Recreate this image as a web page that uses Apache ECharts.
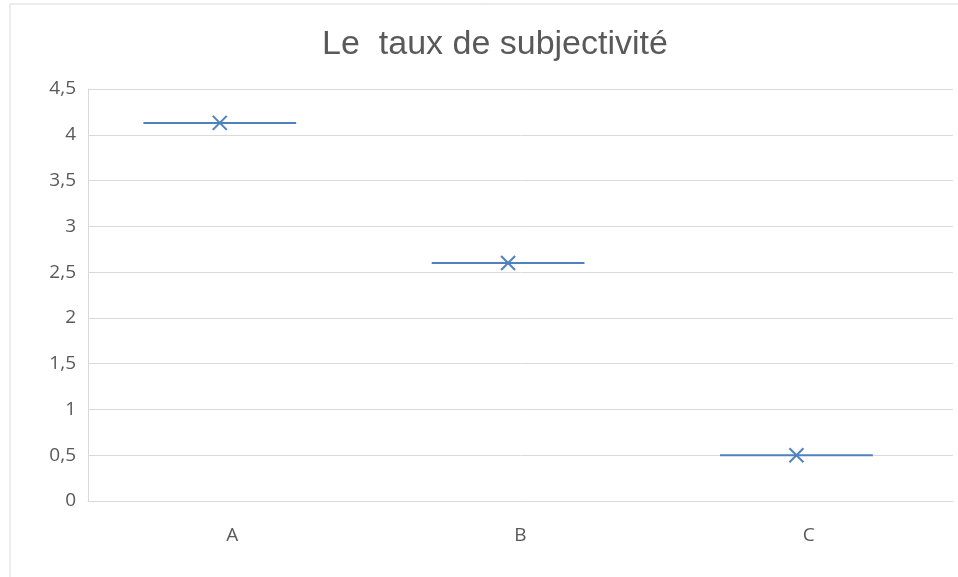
<!DOCTYPE html>
<html>
<head>
<meta charset="utf-8">
<script src="https://cdn.jsdelivr.net/npm/echarts@6/dist/echarts.min.js"></script>
<style>
html,body{margin:0;padding:0;background:#fff;}
#chart{width:958px;height:577px;}
</style>
</head>
<body>
<div id="chart"></div>
<script>
const categories = ['A', 'B', 'C'];
const values = [4.13, 2.6, 0.5];
const yMin = 0, yMax = 4.5, yStep = 0.5;
const titleText = 'Le  taux de subjectivit\u00e9';

const lineColor = '#4f81bd';
const chart = echarts.init(document.getElementById('chart'));

function renderItem(params, api) {
  const p = api.coord([api.value(0), api.value(1)]);
  const bw = api.size([1, 0])[0];
  const cx = p[0] - bw * 0.043;
  const half = bw * 0.265;
  const m = 7;
  const st = { stroke: lineColor, lineWidth: 2 };
  return {
    type: 'group',
    children: [
      { type: 'line', shape: { x1: cx - half, y1: p[1], x2: cx + half, y2: p[1] }, style: st },
      { type: 'line', shape: { x1: cx - m, y1: p[1] - m, x2: cx + m, y2: p[1] + m }, style: st },
      { type: 'line', shape: { x1: cx - m, y1: p[1] + m, x2: cx + m, y2: p[1] - m }, style: st }
    ]
  };
}

chart.setOption({
  animation: false,
  backgroundColor: '#fff',
  graphic: [{
    type: 'rect',
    shape: { x: 10, y: 4, width: 1000, height: 700 },
    style: { fill: 'none', stroke: '#d9d9d9', lineWidth: 1 },
    silent: true
  }],
  title: {
    text: titleText,
    left: 490,
    textAlign: 'center',
    top: 23,
    textStyle: { fontFamily: 'Liberation Sans, Arial, sans-serif', fontSize: 34, fontWeight: 'normal', color: '#595959' }
  },
  grid: { left: 88, right: 5, top: 89, bottom: 76 },
  xAxis: {
    type: 'category',
    data: categories,
    axisLine: { lineStyle: { color: '#d9d9d9', width: 1 } },
    axisTick: { show: false },
    axisLabel: { color: '#595959', fontSize: 19, margin: 25, fontFamily: 'Open Sans, sans-serif' },
    splitLine: { show: false }
  },
  yAxis: {
    type: 'value',
    min: yMin, max: yMax, interval: yStep,
    axisLine: { show: true, lineStyle: { color: '#d9d9d9' } },
    axisTick: { show: false },
    axisLabel: {
      color: '#595959', fontSize: 19, margin: 12, fontFamily: 'Open Sans, sans-serif',
      formatter: v => String(Math.round(v * 10) / 10).replace('.', ',')
    },
    splitLine: { lineStyle: { color: '#d9d9d9', width: 1 } }
  },
  series: [{
    type: 'custom',
    renderItem: renderItem,
    data: categories.map((c, i) => [i, values[i]]),
    encode: { x: 0, y: 1 }
  }]
});
</script>
</body>
</html>
